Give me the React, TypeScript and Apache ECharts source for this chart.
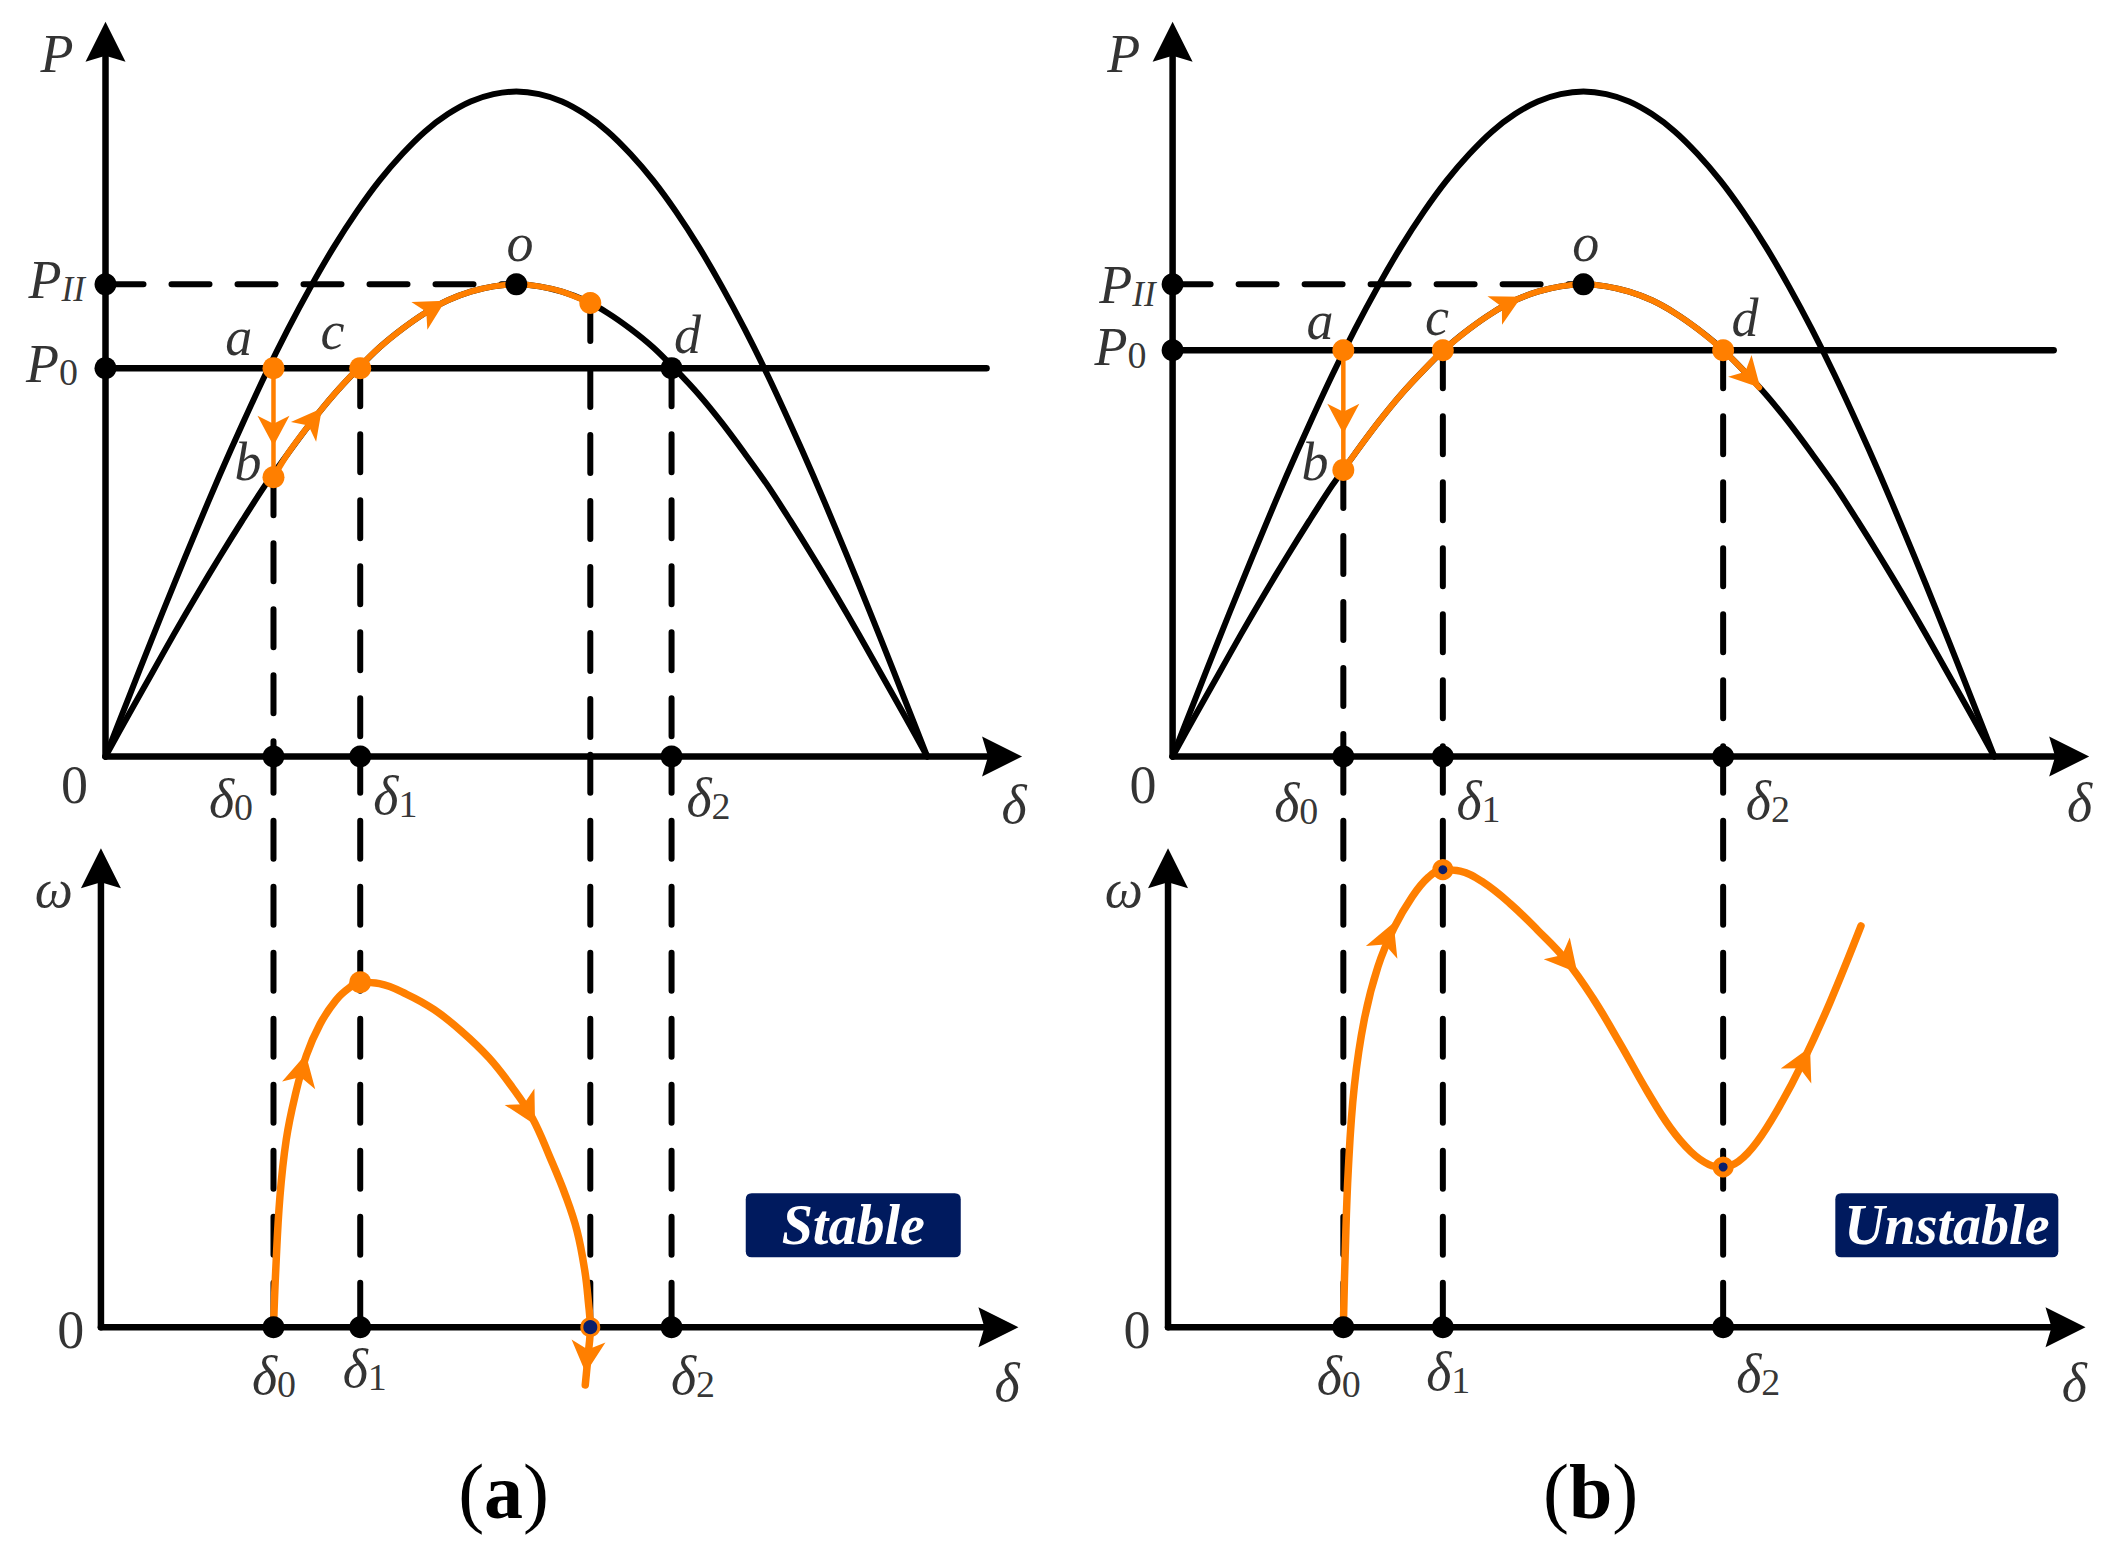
import React, { useEffect, useRef } from 'react';
import * as echarts from 'echarts';

const FONT = 'Liberation Serif';
const ORANGE = '#FF7F00';
const NAVY = '#001A5E';
const DOT_NAVY = '#0B1F6B';

type Pt = [number, number];
type Arrow = [number, number, number];
type Lbl = [string, number, number];

// ---------- power-angle curves (δ in degrees, P in p.u.) ----------
const curveDelta = [0, 5, 10, 15, 20, 25, 30, 35, 40, 45, 50, 55, 60, 65, 70, 75, 80, 85, 90, 95, 100, 105, 110, 115, 120, 125, 130, 135, 140, 145, 150, 155, 160, 165, 170, 175, 180];
const curvePI = [0, 0.087, 0.174, 0.259, 0.342, 0.423, 0.5, 0.574, 0.643, 0.707, 0.766, 0.819, 0.866, 0.906, 0.94, 0.966, 0.985, 0.996, 1, 0.996, 0.985, 0.966, 0.94, 0.906, 0.866, 0.819, 0.766, 0.707, 0.643, 0.574, 0.5, 0.423, 0.342, 0.259, 0.174, 0.087, 0];
const curvePII = [0, 0.062, 0.123, 0.184, 0.243, 0.3, 0.355, 0.408, 0.456, 0.502, 0.544, 0.581, 0.615, 0.643, 0.667, 0.686, 0.699, 0.707, 0.71, 0.707, 0.699, 0.686, 0.667, 0.643, 0.615, 0.581, 0.544, 0.502, 0.456, 0.408, 0.355, 0.3, 0.243, 0.184, 0.123, 0.062, 0];

// axis extents (arrow centres)
const P_ARROW = 1.075;
const W_ARROW = 0.954;
const DELTA_ARROW_TOP = 196.4;
const DELTA_ARROW_BOT = 195.6;
const P0_LINE_END = 193;
const W_AXIS_X = -1.0;

// ---------- panel (a) : stable ----------
const aPII = 0.71;
const aP0 = 0.584;
const aDelta = [36.8, 55.8, 106.2, 124.0]; // δ0, δ1, δmax, δ2
const aPb = 0.42;
const aPm = 0.682;
const aTopPath: Pt[] = [[36.8, 0.42], [40, 0.456], [45, 0.502], [50, 0.544], [55.8, 0.587], [60, 0.615], [65, 0.643], [70, 0.667], [75, 0.686], [80, 0.699], [85, 0.707], [90, 0.71], [95, 0.707], [100, 0.699], [106.2, 0.682]];
const aTopArrows: Arrow[] = [[36.8, 0.49, 180], [45.4, 0.506, -38], [71.6, 0.674, -60]];
const aOmegaPath: Pt[] = [[36.8, 0], [37.3, 0.12], [38.2, 0.27], [39.6, 0.39], [41.5, 0.48], [44, 0.565], [47, 0.63], [50.5, 0.68], [53.5, 0.706], [55.8, 0.717], [60, 0.714], [66, 0.692], [72, 0.66], [78, 0.615], [84, 0.56], [89, 0.5], [93.5, 0.435], [97.5, 0.35], [100.8, 0.273], [103.3, 0.2], [105, 0.117], [105.8, 0.05], [106.2, 0], [105.7, -0.06], [105.1, -0.12]];
const aOmegaArrows: Arrow[] = [[43.1, 0.535, -13], [92.4, 0.45, -151], [105.5, -0.062, 175]];
const aOmegaPeak: Pt = [55.8, 0.717];
const aTopLabels: Lbl[] = [
  ['{m|P}', -10.6, 1.061], ['{m|P}{si|II}', -10.7, 0.7215], ['{m|P}{s|0}', -11.7, 0.594], ['{n|0}', -6.8, -0.038],
  ['{m|a}', 29.2, 0.635], ['{m|b}', 31.2, 0.448], ['{m|c}', 49.7, 0.645], ['{m|o}', 90.8, 0.776], ['{m|d}', 127.5, 0.639],
  ['{m|δ}{s|0}', 27.5, -0.06], ['{m|δ}{s|1}', 63.5, -0.055], ['{m|δ}{s|2}', 132.1, -0.058], ['{m|δ}', 199.0, -0.068],
];
const aBotLabels: Lbl[] = [
  ['{m|ω}', -11.3, 0.917], ['{n|0}', -7.6, 0], ['{m|δ}{s|0}', 36.9, -0.096], ['{m|δ}{s|1}', 56.8, -0.081],
  ['{m|δ}{s|2}', 128.7, -0.096], ['{m|δ}', 197.5, -0.11],
];

// ---------- panel (b) : unstable ----------
const bPII = 0.71;
const bP0 = 0.611;
const bDelta = [37.4, 59.2, 120.6]; // δ0, δ1, δ2
const bPb = 0.431;
const bTopPath: Pt[] = [[37.4, 0.431], [40, 0.456], [45, 0.502], [50, 0.544], [55, 0.581], [59.2, 0.61], [65, 0.643], [70, 0.667], [75, 0.686], [80, 0.699], [85, 0.707], [90, 0.71], [95, 0.707], [100, 0.699], [105, 0.686], [110, 0.667], [115, 0.643], [120.6, 0.611], [125, 0.581], [128.5, 0.555]];
const bTopArrows: Arrow[] = [[37.4, 0.508, 180], [73.5, 0.681, -63], [126.5, 0.571, -137]];
const bOmegaPath: Pt[] = [[37.4, 0], [37.8, 0.15], [38.5, 0.33], [39.8, 0.5], [42, 0.64], [45, 0.75], [48.5, 0.83], [52.5, 0.895], [56, 0.935], [59.2, 0.951], [63, 0.948], [68, 0.925], [74, 0.88], [80, 0.825], [86, 0.765], [92, 0.685], [98, 0.59], [104, 0.49], [109, 0.415], [113.5, 0.365], [117.5, 0.338], [120.6, 0.333], [124, 0.345], [128, 0.385], [133, 0.46], [138, 0.55], [144, 0.675], [150.8, 0.834]];
const bOmegaArrows: Arrow[] = [[47.1, 0.81, -22], [86.4, 0.762, -140], [138.1, 0.552, -26]];
const bOmegaPeak: Pt = [59.2, 0.951];
const bOmegaMin: Pt = [120.6, 0.333];
const bTopLabels: Lbl[] = [
  ['{m|P}', -10.7, 1.061], ['{m|P}{si|II}', -9.9, 0.714], ['{m|P}{s|0}', -11.4, 0.621], ['{n|0}', -6.5, -0.038],
  ['{m|a}', 32.3, 0.66], ['{m|b}', 31.2, 0.448], ['{m|c}', 57.9, 0.665], ['{m|o}', 90.5, 0.776], ['{m|d}', 125.4, 0.664],
  ['{m|δ}{s|0}', 27.1, -0.066], ['{m|δ}{s|1}', 67.0, -0.062], ['{m|δ}{s|2}', 130.4, -0.062], ['{m|δ}', 198.7, -0.065],
];
const bBotLabels: Lbl[] = [
  ['{m|ω}', -10.7, 0.917], ['{n|0}', -7.8, 0], ['{m|δ}{s|0}', 36.4, -0.096], ['{m|δ}{s|1}', 60.4, -0.086],
  ['{m|δ}{s|2}', 128.3, -0.091], ['{m|δ}', 197.5, -0.11],
];

// status boxes
const statusBoxes: [number, string, number, number, number][] = [
  [1, 'Stable', 163.8, 0.212, 215],
  [3, 'Unstable', 169.6, 0.212, 223],
];

// ---------- scales ----------
const X_MIN = -22, X_MAX = 205;
const P_MIN = -0.12, P_MAX = 1.12;
const W_MIN = -0.2, W_MAX = 1.19;

const ARROW_AXIS = 'path://M20,0L40,40L20,34L0,40Z';
const ARROW_ORANGE = 'path://M16,0L32,30L16,22L0,30Z';
const boxPath = (w: number) => `path://M6,0H${w - 6}Q${w},0 ${w},6V58Q${w},64 ${w - 6},64H6Q0,64 0,58V6Q0,0 6,0Z`;

const zip = (xs: number[], ys: number[]): Pt[] => xs.map((x, i) => [x, ys[i]]);

function line(g: number, data: Pt[], color: string, width: number, opts: any = {}) {
  return {
    type: 'line', xAxisIndex: g, yAxisIndex: g, data, symbol: 'none', showSymbol: false,
    clip: false, silent: true, smooth: opts.smooth ?? false, z: opts.z ?? 2,
    lineStyle: { color, width, type: opts.dash ? [38, 28] : 'solid', cap: 'round', join: 'round' },
  };
}
function dots(g: number, data: Pt[], color: string, size: number, z = 5, border?: [string, number]) {
  return {
    type: 'scatter', xAxisIndex: g, yAxisIndex: g, data, symbol: 'circle', symbolSize: size, clip: false, silent: true, z,
    itemStyle: { color, opacity: 1, borderColor: border ? border[0] : undefined, borderWidth: border ? border[1] : 0 },
  };
}
function arrows(g: number, data: Arrow[], path: string, size: number[], color: string, z = 4) {
  return {
    type: 'scatter', xAxisIndex: g, yAxisIndex: g, symbol: path, symbolSize: size, clip: false, silent: true, z,
    itemStyle: { color, opacity: 1 },
    data: data.map(([x, y, r]) => ({ value: [x, y], symbolRotate: r })),
  };
}
const rich = {
  m: { fontFamily: FONT, fontSize: 54, fontStyle: 'italic', color: '#000', lineHeight: 60, verticalAlign: 'bottom' },
  n: { fontFamily: FONT, fontSize: 54, fontStyle: 'normal', color: '#000', lineHeight: 60, verticalAlign: 'bottom' },
  s: { fontFamily: FONT, fontSize: 38, fontStyle: 'normal', color: '#000', lineHeight: 44, verticalAlign: 'bottom' },
  si: { fontFamily: FONT, fontSize: 35, fontStyle: 'italic', color: '#000', lineHeight: 42, verticalAlign: 'bottom' },
};
function labels(g: number, items: Lbl[]) {
  return {
    type: 'scatter', xAxisIndex: g, yAxisIndex: g, clip: false, silent: true, symbol: 'circle', symbolSize: 1, z: 6,
    itemStyle: { color: 'rgba(0,0,0,0)' },
    data: items.map(([t, x, y]) => ({ name: t, value: [x, y] })),
    label: { show: true, position: 'inside', formatter: (p: any) => p.name, rich, fontFamily: FONT, fontSize: 54, color: '#000' },
  };
}

function axes(gTop: number, gBot: number) {
  return [
    line(gTop, [[0, 0], [0, P_ARROW]], '#000', 6.5),
    line(gTop, [[0, 0], [DELTA_ARROW_TOP, 0]], '#000', 6.5),
    arrows(gTop, [[0, P_ARROW, 0], [DELTA_ARROW_TOP, 0, -90]], ARROW_AXIS, [40, 40], '#000', 3),
    line(gBot, [[W_AXIS_X, 0], [W_AXIS_X, W_ARROW]], '#000', 6.5),
    line(gBot, [[W_AXIS_X, 0], [DELTA_ARROW_BOT, 0]], '#000', 6.5),
    arrows(gBot, [[W_AXIS_X, W_ARROW, 0], [DELTA_ARROW_BOT, 0, -90]], ARROW_AXIS, [40, 40], '#000', 3),
    line(gTop, zip(curveDelta, curvePI), '#000', 6, { smooth: 0.3 }),
    line(gTop, zip(curveDelta, curvePII), '#000', 6, { smooth: 0.3 }),
  ];
}

function buildSeries() {
  const s: any[] = [];
  // ----- panel a -----
  s.push(...axes(0, 1));
  s.push(line(0, [[0, aP0], [P0_LINE_END, aP0]], '#000', 6.5));
  s.push(line(0, [[0, aPII], [90, aPII]], '#000', 6, { dash: true }));
  const aTopStarts = [aPb, aP0, aPm, aP0];
  aDelta.forEach((d, i) => {
    s.push(line(0, [[d, aTopStarts[i]], [d, 0]], '#000', 6, { dash: true }));
    s.push(line(1, [[d, W_MAX], [d, 0]], '#000', 6, { dash: true }));
  });
  s.push(line(0, [[aDelta[0], aP0], [aDelta[0], aPb]], ORANGE, 4.5, { z: 3 }));
  s.push(line(0, aTopPath, ORANGE, 6, { smooth: 0.3, z: 3 }));
  s.push(arrows(0, aTopArrows, ARROW_ORANGE, [32, 30], ORANGE));
  s.push(line(1, aOmegaPath, ORANGE, 7.5, { smooth: 0.4, z: 3 }));
  s.push(arrows(1, aOmegaArrows, ARROW_ORANGE, [34, 32], ORANGE));
  s.push(dots(0, [[0, aPII], [0, aP0], [90, aPII], [aDelta[3], aP0], [aDelta[0], 0], [aDelta[1], 0], [aDelta[3], 0]], '#000', 22));
  s.push(dots(0, [[aDelta[0], aP0], [aDelta[0], aPb], [aDelta[1], aP0], [aDelta[2], aPm]], ORANGE, 22));
  s.push(dots(1, [[aDelta[0], 0], [aDelta[1], 0], [aDelta[3], 0]], '#000', 22));
  s.push(dots(1, [aOmegaPeak], ORANGE, 22));
  s.push(dots(1, [[aDelta[2], 0]], DOT_NAVY, 17, 5, [ORANGE, 3]));
  s.push(labels(0, aTopLabels));
  s.push(labels(1, aBotLabels));

  // ----- panel b -----
  s.push(...axes(2, 3));
  s.push(line(2, [[0, bP0], [P0_LINE_END, bP0]], '#000', 6.5));
  s.push(line(2, [[0, bPII], [90, bPII]], '#000', 6, { dash: true }));
  const bTopStarts = [bPb, bP0, bP0];
  bDelta.forEach((d, i) => {
    s.push(line(2, [[d, bTopStarts[i]], [d, 0]], '#000', 6, { dash: true }));
    s.push(line(3, [[d, W_MAX], [d, 0]], '#000', 6, { dash: true }));
  });
  s.push(line(2, [[bDelta[0], bP0], [bDelta[0], bPb]], ORANGE, 4.5, { z: 3 }));
  s.push(line(2, bTopPath, ORANGE, 6, { smooth: 0.3, z: 3 }));
  s.push(arrows(2, bTopArrows, ARROW_ORANGE, [32, 30], ORANGE));
  s.push(line(3, bOmegaPath, ORANGE, 7.5, { smooth: 0.4, z: 3 }));
  s.push(arrows(3, bOmegaArrows, ARROW_ORANGE, [34, 32], ORANGE));
  s.push(dots(2, [[0, bPII], [0, bP0], [90, bPII], [bDelta[0], 0], [bDelta[1], 0], [bDelta[2], 0]], '#000', 22));
  s.push(dots(2, [[bDelta[0], bP0], [bDelta[0], bPb], [bDelta[1], bP0], [bDelta[2], bP0]], ORANGE, 22));
  s.push(dots(3, [[bDelta[0], 0], [bDelta[1], 0], [bDelta[2], 0]], '#000', 22));
  s.push(dots(3, [bOmegaPeak, bOmegaMin], DOT_NAVY, 15, 5, [ORANGE, 6]));
  s.push(labels(2, bTopLabels));
  s.push(labels(3, bBotLabels));

  // status boxes
  statusBoxes.forEach(([g, text, x, y, w]) => {
    s.push({
      type: 'scatter', xAxisIndex: g, yAxisIndex: g, clip: false, silent: true, z: 6,
      symbol: boxPath(w), symbolSize: [w, 64], itemStyle: { color: NAVY, opacity: 1 },
      data: [{ name: text, value: [x, y] }],
      label: { show: true, position: 'inside', formatter: '{b}', color: '#fff', fontFamily: FONT, fontSize: 56, fontWeight: 'bold', fontStyle: 'italic' },
    });
  });
  return s;
}

const captions: [string, number, number][] = [['a', 503.6, 1491.4], ['b', 1590.6, 1491.4]];

export default function App() {
  const ref = useRef<HTMLDivElement>(null);
  useEffect(() => {
    if (!ref.current) return;
    const chart = echarts.init(ref.current, undefined, { renderer: 'svg' });
    const gridW = (X_MAX - X_MIN) * 4.565;
    const grids = [
      { left: 5.07, top: 11.7, width: gridW, height: 824.6 },
      { left: 5.07, top: 754.7, width: gridW, height: 668.7 },
      { left: 1072.17, top: 11.7, width: gridW, height: 824.6 },
      { left: 1072.17, top: 754.7, width: gridW, height: 668.7 },
    ].map((g) => ({ ...g, containLabel: false, show: false }));
    chart.setOption({
      animation: false,
      backgroundColor: '#ffffff',
      grid: grids,
      xAxis: grids.map((_, i) => ({ type: 'value', gridIndex: i, min: X_MIN, max: X_MAX, show: false })),
      yAxis: grids.map((_, i) => ({
        type: 'value', gridIndex: i, show: false,
        min: i % 2 === 0 ? P_MIN : W_MIN, max: i % 2 === 0 ? P_MAX : W_MAX,
      })),
      series: buildSeries(),
      graphic: captions.map(([t, x, y]) => ({
        type: 'text', x, y, z: 10, silent: true,
        style: {
          text: `{p|(}{q|${t}}{p|)}`,
          align: 'center', verticalAlign: 'middle',
          rich: {
            p: { fontFamily: FONT, fontSize: 78, fontWeight: 'normal', fill: '#000' },
            q: { fontFamily: FONT, fontSize: 78, fontWeight: 'bold', fill: '#000' },
          },
        },
      })),
    });
    return () => chart.dispose();
  }, []);
  return <div ref={ref} style={{ position: 'absolute', left: 0, top: 0, width: 2113, height: 1546, background: '#fff' }} />;
}
